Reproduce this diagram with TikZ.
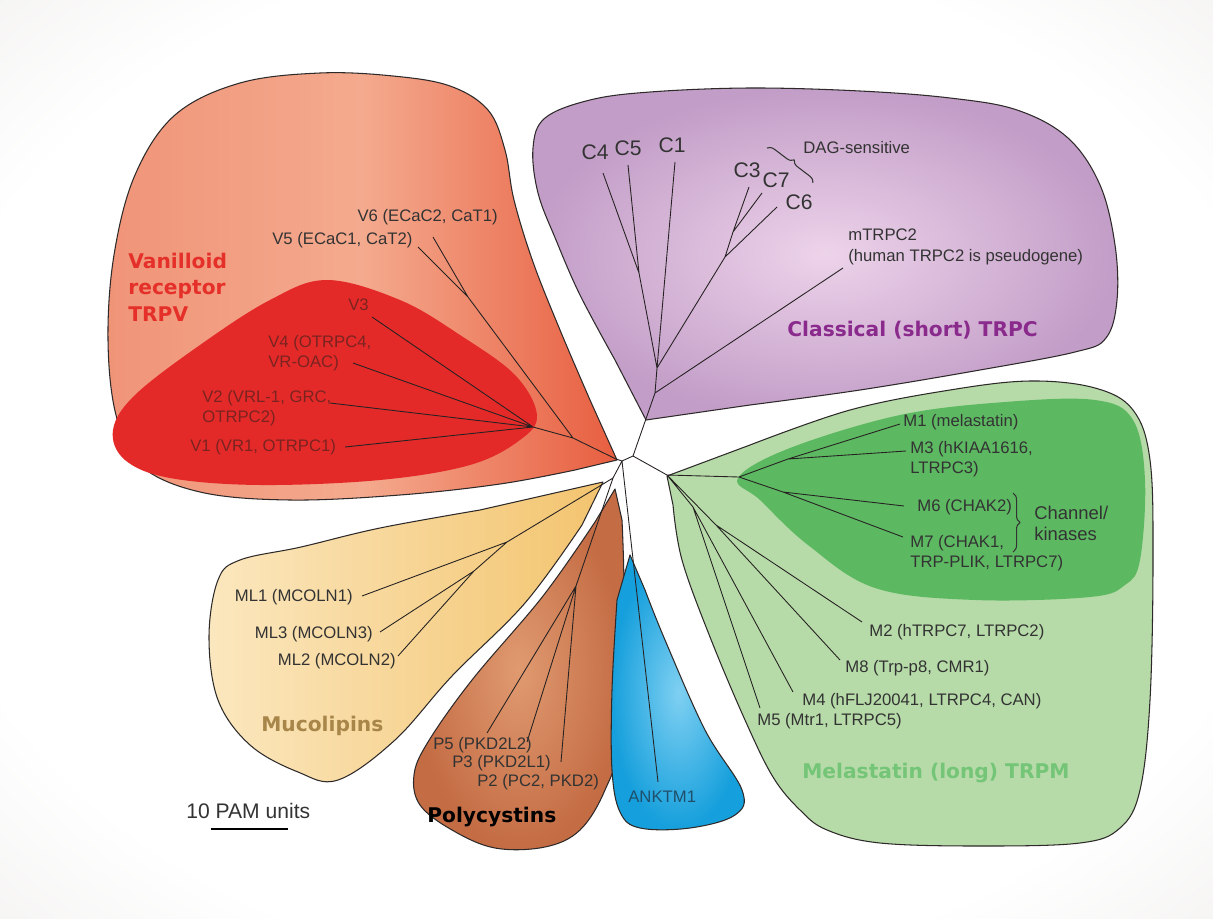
\documentclass[tikz,border=0pt]{standalone}
\usepackage{fontspec}
\setmainfont{Liberation Sans}
\newfontfamily\headfont{DejaVu Sans}
\usetikzlibrary{decorations.pathreplacing}
\definecolor{bgedge}{HTML}{E4E2DF}
\definecolor{outline}{HTML}{2E2A2A}
\definecolor{branchcol}{HTML}{262222}
\definecolor{labeltext}{HTML}{333333}
\definecolor{vleft}{HTML}{F09478}
\definecolor{vlight}{HTML}{F4AA8E}
\definecolor{vright}{HTML}{E85E40}
\definecolor{vdeep}{HTML}{E42A29}
\definecolor{vdark}{HTML}{7A2320}
\definecolor{vtitle}{HTML}{E5302A}
\definecolor{cin}{HTML}{EDD3EA}
\definecolor{cout}{HTML}{C29DC7}
\definecolor{ctitle}{HTML}{8A2A8C}
\definecolor{mouter}{HTML}{B6DBA8}
\definecolor{minner}{HTML}{5DB862}
\definecolor{mtitle}{HTML}{74C577}
\definecolor{mlleft}{HTML}{FBE7BE}
\definecolor{mlright}{HTML}{F3C46F}
\definecolor{mltitle}{HTML}{A8864A}
\definecolor{pin}{HTML}{E09A70}
\definecolor{pout}{HTML}{C46C44}
\definecolor{ain}{HTML}{7FD0F2}
\definecolor{aout}{HTML}{159FDC}
\definecolor{atext}{HTML}{1F4F6A}
\pgfdeclareradialshading{vignette}{\pgfpoint{0bp}{0bp}}{color(0bp)=(white); color(28bp)=(white); color(50bp)=(bgedge); color(75bp)=(bgedge)}
\begin{document}
\begin{tikzpicture}[x=0.02cm, y=-0.02cm, line join=round,
every node/.style={inner sep=0pt, text=labeltext, font=\fontsize{9.5}{11.5}\selectfont},
leaf/.style={align=left},
cname/.style={font=\fontsize{12}{13}\selectfont},
famtitle/.style={font=\headfont\bfseries\fontsize{11.5}{15}\selectfont, align=left},
clade/.style={draw=outline, line width=0.6pt},
branch/.style={draw=branchcol, line width=0.5pt},
darkleaf/.style={text=vdark, align=left},
groupbrace/.style={draw=labeltext, line width=0.6pt, decorate, decoration={brace, amplitude=4pt}}]
\useasboundingbox (0,0) rectangle (1213,919);
\shade[shading=vignette] (0,0) rectangle (1213,919);
% clade areas
\draw[clade, left color=vleft, right color=vright, middle color=vlight] (617,460) -- plot[smooth, tension=0.6] coordinates {(590,400) (560,330) (533,262) (514,200) (505,150) (488,110) (450,86) (393,76) (320,73) (240,83) (175,115) (135,175) (114,255) (108,340) (116,415) (140,465) (200,492) (290,500) (400,495) (500,484) (575,470)} -- cycle;
\fill[vdeep] plot[smooth cycle, tension=0.6] coordinates {(327,280) (400,300) (460,335) (515,375) (537,415) (520,440) (470,465) (380,480) (260,485) (170,478) (125,460) (113,430) (135,395) (200,345) (270,300)};
\draw[clade, inner color=cin, outer color=cout] (646,420) -- plot[smooth, tension=0.6] coordinates {(615,360) (580,295) (556,240) (538,193) (533,148) (545,118) (590,100) (650,92) (750,88) (860,91) (950,98) (1017,110) (1068,138) (1100,185) (1115,245) (1117,300) (1106,338) (1075,352) (980,370) (860,390) (750,405)} -- cycle;
\draw[clade, fill=mouter] (667,476) -- plot[smooth, tension=0.6] coordinates {(750,445) (850,410) (950,390) (1030,381) (1095,388) (1133,410) (1150,460) (1153,560) (1150,700) (1140,790) (1120,828) (1080,843) (980,846) (880,843) (827,830) (800,810) (773,777) (745,720) (710,637) (682,560) (673,505)} -- cycle;
\fill[minner] plot[smooth cycle, tension=0.6] coordinates {(738,478) (790,448) (900,415) (1005,402) (1095,400) (1133,420) (1145,480) (1140,560) (1125,585) (1090,597) (975,600) (875,588) (808,545) (760,500)};
\draw[clade, left color=mlleft, right color=mlright] (603,482) -- plot[smooth, tension=0.6] coordinates {(480,510) (380,528) (301,547) (240,560) (218,580) (209,637) (218,700) (250,745) (298,772) (338,780) (395,740) (452,676) (525,603) (582,525)} -- cycle;
\draw[clade, inner color=pin, outer color=pout] (615,489) -- plot[smooth, tension=0.6] coordinates {(622,520) (624,603) (620,737) (605,790) (580,830) (545,847) (495,848) (452,830) (420,805) (414,775) (428,742) (472,680) (543,596) (595,522)} -- cycle;
\draw[clade, inner color=ain, outer color=aout] (630,555) -- plot[smooth, tension=0.6] coordinates {(645,590) (665,640) (705,730) (742,790) (735,815) (690,828) (640,828) (620,812) (612,770) (612,690) (617,600)} -- cycle;
% tree
\coordinate (o) at (622,461); \coordinate (nCM) at (633,456);
\coordinate (vR) at (616,459); \coordinate (pm) at (613,478);
\coordinate (vJ) at (573,438); \coordinate (vA) at (533,427); \coordinate (vB) at (468,297);
\coordinate (lV6) at (433,237); \coordinate (lV5) at (418,247); \coordinate (lV3) at (372,317);
\coordinate (lV4) at (353,363); \coordinate (lV2) at (330,403); \coordinate (lV1) at (345,447);
\coordinate (cC) at (655,393); \coordinate (cA) at (657,368); \coordinate (c45) at (639,273);
\coordinate (c367) at (725,257); \coordinate (c37) at (733,232);
\coordinate (lC4) at (603,173); \coordinate (lC5) at (628,165); \coordinate (lC1) at (675,162);
\coordinate (lC3) at (749,187); \coordinate (lC7) at (762,193); \coordinate (lC6) at (777,207);
\coordinate (lmT) at (843,268);
\coordinate (mR) at (667,475); \coordinate (mI) at (739,477); \coordinate (m13) at (788,459);
\coordinate (m67) at (783,492); \coordinate (m45) at (693,507); \coordinate (m28) at (716,525);
\coordinate (lM1) at (900,424); \coordinate (lM3) at (906,451); \coordinate (lM6) at (904,506);
\coordinate (lM7) at (903,537); \coordinate (lM2) at (862,622); \coordinate (lM8) at (840,660);
\coordinate (lM4) at (793,692); \coordinate (lM5) at (760,708);
\coordinate (mlA) at (507,542); \coordinate (mlB) at (474,571);
\coordinate (lML1) at (362,596); \coordinate (lML3) at (380,632); \coordinate (lML2) at (398,656);
\coordinate (pN) at (576,586); \coordinate (lP5) at (487,733); \coordinate (lP3) at (527,742);
\coordinate (lP2) at (561,762); \coordinate (lA) at (658,782);
\draw[branch] (vR) -- (o) -- (nCM) (o) -- (pm) (o) -- (lA);
\draw[branch] (vR) -- (vJ) -- (vA) (vJ) -- (vB) -- (lV6) (vB) -- (lV5)
 (vA) -- (lV3) (vA) -- (lV4) (vA) -- (lV2) (vA) -- (lV1);
\draw[branch] (nCM) -- (cC) -- (cA) -- (c45) -- (lC4) (c45) -- (lC5) (cA) -- (lC1)
 (cA) -- (c367) -- (lC6) (c367) -- (c37) -- (lC3) (c37) -- (lC7) (cC) -- (lmT);
\draw[branch] (nCM) -- (mR) -- (mI) -- (m13) -- (lM1) (m13) -- (lM3) (mI) -- (m67) -- (lM6) (m67) -- (lM7)
 (mR) -- (m28) -- (lM2) (m28) -- (lM8) (mR) -- (m45) -- (lM4) (m45) -- (lM5);
\draw[branch] (pm) -- (mlA) -- (lML1) (mlA) -- (mlB) -- (lML3) (mlB) -- (lML2)
 (pm) -- (pN) -- (lP5) (pN) -- (lP3) (pN) -- (lP2);
% labels
\node[famtitle, text=vtitle, anchor=west] (trpv) at (128,287) {Vanilloid\\receptor\\TRPV};
\node[anchor=east] (v6) at (498,217) {V6 (ECaC2, CaT1)};
\node[anchor=west] (v5) at (272,240) {V5 (ECaC1, CaT2)};
\node[darkleaf, anchor=west] (v3) at (348,305) {V3};
\node[darkleaf, anchor=west] (v4) at (268,353) {V4 (OTRPC4,\\VR-OAC)};
\node[darkleaf, anchor=west] (v2) at (202,408) {V2 (VRL-1, GRC,\\OTRPC2)};
\node[darkleaf, anchor=west] (v1) at (190,447) {V1 (VR1, OTRPC1)};
\node[cname] (c4) at (595,152) {C4};
\node[cname] (c5) at (628,148) {C5};
\node[cname] (c1) at (672,145) {C1};
\node[cname] (c3) at (747,170) {C3};
\node[cname] (c7) at (776,180) {C7};
\node[cname] (c6) at (799,202) {C6};
\draw[groupbrace] (767,148) -- (813,183);
\node[anchor=west] (dag) at (803,148) {DAG-sensitive};
\node[leaf, anchor=west, font=\fontsize{9.5}{12}\selectfont] (mtrpc2) at (848,247) {mTRPC2\\(human TRPC2 is pseudogene)};
\node[famtitle, text=ctitle, anchor=west] (trpc) at (787,330) {Classical (short) TRPC};
\node[anchor=west] (m1) at (903,422) {M1 (melastatin)};
\node[leaf, anchor=west] (m3) at (910,459) {M3 (hKIAA1616,\\LTRPC3)};
\node[anchor=west] (m6) at (917,507) {M6 (CHAK2)};
\node[leaf, anchor=west] (m7) at (910,553) {M7 (CHAK1,\\TRP-PLIK, LTRPC7)};
\draw[groupbrace] (1013,493) -- (1013,552);
\node[leaf, anchor=west, font=\fontsize{10.5}{12}\selectfont] (chk) at (1034,523) {Channel/\\kinases};
\node[anchor=west] (m2) at (869,632) {M2 (hTRPC7, LTRPC2)};
\node[anchor=west] (m8) at (845,668) {M8 (Trp-p8, CMR1)};
\node[anchor=west] (m4) at (802,701) {M4 (hFLJ20041, LTRPC4, CAN)};
\node[anchor=west] (m5) at (757,721) {M5 (Mtr1, LTRPC5)};
\node[famtitle, text=mtitle, anchor=west] (trpm) at (802,773) {Melastatin (long) TRPM};
\node[anchor=east] (ml1) at (353,597) {ML1 (MCOLN1)};
\node[anchor=east] (ml3) at (373,634) {ML3 (MCOLN3)};
\node[anchor=east] (ml2) at (396,661) {ML2 (MCOLN2)};
\node[famtitle, text=mltitle, anchor=west] (mucol) at (261,726) {Mucolipins};
\node[anchor=west] (p5) at (433,745) {P5 (PKD2L2)};
\node[anchor=west] (p3) at (452,763) {P3 (PKD2L1)};
\node[anchor=west] (p2) at (477,782) {P2 (PC2, PKD2)};
\node[famtitle, text=black, anchor=west] (polyc) at (427,817) {Polycystins};
\node[anchor=west, text=atext] (ank) at (628,797) {ANKTM1};
\node[anchor=west, font=\fontsize{12}{13}\selectfont] (pam) at (186,811) {10 PAM units};
\coordinate (barL) at (211,829); \coordinate (barR) at (288,829);
\draw[line width=1.3pt] (barL) -- (barR);
\end{tikzpicture}
\end{document}
